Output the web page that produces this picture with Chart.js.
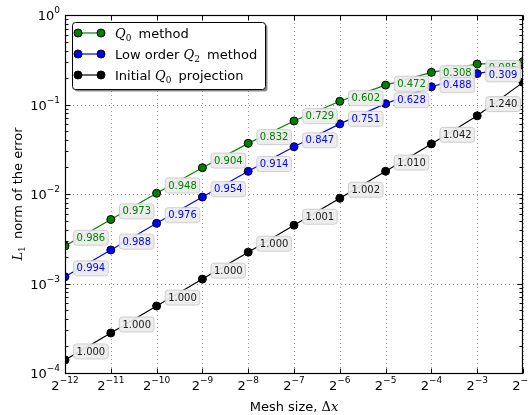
<!DOCTYPE html>
<html>
<head>
<meta charset="utf-8">
<script src="https://cdn.jsdelivr.net/npm/chart.js@4/dist/chart.umd.min.js"></script>
<style>
  html, body { margin: 0; padding: 0; background: #ffffff; }
  canvas { display: block; }
</style>
</head>
<body>
<canvas id="c" width="528" height="415"></canvas>
<script>
// Mesh sizes dx = 2^e
const meshExponents = [-12, -11, -10, -9, -8, -7, -6, -5, -4, -3, -2];
const meshSizes = [0.000244140625, 0.00048828125, 0.0009765625, 0.001953125, 0.00390625,
                   0.0078125, 0.015625, 0.03125, 0.0625, 0.125, 0.25];
const decadeExponents = [-4, -3, -2, -1, 0];

// L1 error of each scheme at each mesh size
const q0Error   = [2.62e-3, 5.19e-3, 1.019e-2, 1.966e-2, 3.68e-2, 6.55e-2, 0.1086, 0.1648, 0.2286, 0.283, 0.300];
const q2Error   = [1.19e-3, 2.37e-3, 4.70e-3, 9.245e-3, 1.791e-2, 3.374e-2, 6.07e-2, 0.1022, 0.1579, 0.2215, 0.2744];
const projError = [1.40e-4, 2.80e-4, 5.60e-4, 1.12e-3, 2.24e-3, 4.48e-3, 8.966e-3, 1.796e-2, 3.628e-2, 7.476e-2, 0.1767];

// Observed convergence rate between neighbouring meshes
const q0Rates   = ['0.986', '0.973', '0.948', '0.904', '0.832', '0.729', '0.602', '0.472', '0.308', '0.085'];
const q2Rates   = ['0.994', '0.988', '0.976', '0.954', '0.914', '0.847', '0.751', '0.628', '0.488', '0.309'];
const projRates = ['1.000', '1.000', '1.000', '1.000', '1.000', '1.001', '1.002', '1.010', '1.042', '1.240'];

const SANS = "'DejaVu Sans', sans-serif";
const SERIF = "'DejaVu Serif', serif";

const seriesList = [
  { legend: [{ t: 'Q', font: 'italic 13px ' + SERIF }, { t: '0', font: '9px ' + SERIF, dy: 3 }, { t: ' method', font: '13px ' + SANS, dx: 3 }],
    values: q0Error, rates: q0Rates, color: '#008000' },
  { legend: [{ t: 'Low order ', font: '13px ' + SANS }, { t: 'Q', font: 'italic 13px ' + SERIF }, { t: '2', font: '9px ' + SERIF, dy: 3 }, { t: ' method', font: '13px ' + SANS, dx: 3 }],
    values: q2Error, rates: q2Rates, color: '#0000ff' },
  { legend: [{ t: 'Initial ', font: '13px ' + SANS }, { t: 'Q', font: 'italic 13px ' + SERIF }, { t: '0', font: '9px ' + SERIF, dy: 3 }, { t: ' projection', font: '13px ' + SANS, dx: 3 }],
    values: projError, rates: projRates, color: '#000000' }
];

function richWidth(ctx, parts) {
  let w = 0;
  for (const p of parts) { ctx.font = p.font; w += ctx.measureText(p.t).width + (p.dx || 0); }
  return w;
}
function drawRich(ctx, parts, x, y, color) {
  let cx = x;
  ctx.fillStyle = color;
  ctx.textAlign = 'left';
  ctx.textBaseline = 'alphabetic';
  for (const p of parts) {
    ctx.font = p.font;
    cx += p.dx || 0;
    ctx.fillText(p.t, cx, y + (p.dy || 0));
    cx += ctx.measureText(p.t).width;
  }
}
function roundRect(ctx, x, y, w, h, r) {
  ctx.beginPath();
  ctx.moveTo(x + r, y);
  ctx.lineTo(x + w - r, y);
  ctx.quadraticCurveTo(x + w, y, x + w, y + r);
  ctx.lineTo(x + w, y + h - r);
  ctx.quadraticCurveTo(x + w, y + h, x + w - r, y + h);
  ctx.lineTo(x + r, y + h);
  ctx.quadraticCurveTo(x, y + h, x, y + h - r);
  ctx.lineTo(x, y + r);
  ctx.quadraticCurveTo(x, y, x + r, y);
  ctx.closePath();
}

const axesPlugin = {
  id: 'axesDecor',
  beforeDatasetsDraw(chart) {
    const { ctx, chartArea: a, scales: { x, y } } = chart;
    ctx.save();
    ctx.strokeStyle = 'rgba(0,0,0,0.4)';
    ctx.lineWidth = 1;
    ctx.setLineDash([1, 3]);
    for (const e of meshExponents) {
      const px = Math.round(x.getPixelForValue(Math.pow(2, e))) + 0.5;
      ctx.beginPath(); ctx.moveTo(px, a.top); ctx.lineTo(px, a.bottom); ctx.stroke();
    }
    for (const d of decadeExponents) {
      const py = Math.round(y.getPixelForValue(Math.pow(10, d))) + 0.5;
      ctx.beginPath(); ctx.moveTo(a.left, py); ctx.lineTo(a.right, py); ctx.stroke();
    }
    ctx.restore();
  },
  afterDatasetsDraw(chart) {
    const { ctx, chartArea: a, scales: { x, y } } = chart;
    ctx.save();
    // frame
    ctx.strokeStyle = '#000';
    ctx.lineWidth = 1.2;
    ctx.strokeRect(Math.round(a.left) + 0.5, Math.round(a.top) + 0.5,
                   Math.round(a.right - a.left) - 1, Math.round(a.bottom - a.top));
    // inward ticks
    ctx.lineWidth = 1;
    const L = Math.round(a.left) + 0.5, R = Math.round(a.right) - 0.5;
    const T = Math.round(a.top) + 0.5, B = Math.round(a.bottom) + 0.5;
    for (const e of meshExponents) {
      const px = Math.round(x.getPixelForValue(Math.pow(2, e))) + 0.5;
      ctx.beginPath();
      ctx.moveTo(px, B); ctx.lineTo(px, B - 5);
      ctx.moveTo(px, T); ctx.lineTo(px, T + 5);
      ctx.stroke();
    }
    for (let d = -4; d <= 0; d++) {
      const py = Math.round(y.getPixelForValue(Math.pow(10, d))) + 0.5;
      ctx.beginPath();
      ctx.moveTo(L, py); ctx.lineTo(L + 5, py);
      ctx.moveTo(R, py); ctx.lineTo(R - 5, py);
      ctx.stroke();
      if (d < 0) {
        for (let m = 2; m <= 9; m++) {
          const pm = Math.round(y.getPixelForValue(m * Math.pow(10, d))) + 0.5;
          ctx.beginPath();
          ctx.moveTo(L, pm); ctx.lineTo(L + 3, pm);
          ctx.moveTo(R, pm); ctx.lineTo(R - 3, pm);
          ctx.stroke();
        }
      }
    }
    // rate labels at segment midpoints
    ctx.font = '10px ' + SANS;
    ctx.textAlign = 'center';
    ctx.textBaseline = 'middle';
    for (const s of seriesList) {
      for (let j = 0; j < s.rates.length; j++) {
        const x1 = x.getPixelForValue(meshSizes[j]), y1 = y.getPixelForValue(s.values[j]);
        const x2 = x.getPixelForValue(meshSizes[j + 1]), y2 = y.getPixelForValue(s.values[j + 1]);
        const mx = (x1 + x2) / 2 + 3, my = (y1 + y2) / 2 + 5;
        const w = ctx.measureText(s.rates[j]).width + 6, h = 15;
        roundRect(ctx, mx - w / 2, my - h / 2, w, h, 3);
        ctx.fillStyle = 'rgba(236,236,236,0.92)';
        ctx.fill();
        ctx.strokeStyle = '#cfcfcf';
        ctx.lineWidth = 1;
        ctx.stroke();
        ctx.fillStyle = s.color === '#000000' ? '#1a1a1a' : s.color;
        ctx.fillText(s.rates[j], mx, my + 0.5);
      }
    }
    ctx.restore();
  },
  afterDraw(chart) {
    const { ctx, chartArea: a, scales: { x, y } } = chart;
    ctx.save();
    // x tick labels: 2^e
    for (const e of meshExponents) {
      const px = x.getPixelForValue(Math.pow(2, e));
      const parts = [{ t: '2', font: '13px ' + SANS }, { t: '\u2212' + Math.abs(e), font: '9px ' + SANS, dy: -7 }];
      const w = richWidth(ctx, parts);
      drawRich(ctx, parts, px - w / 2, 390, '#000');
    }
    // y tick labels: 10^d
    for (const d of decadeExponents) {
      const py = y.getPixelForValue(Math.pow(10, d));
      const sup = d === 0 ? '0' : '\u2212' + Math.abs(d);
      const parts = [{ t: '10', font: '13px ' + SANS }, { t: sup, font: '9px ' + SANS, dy: -7 }];
      const w = richWidth(ctx, parts);
      drawRich(ctx, parts, 60 - w, py + 5, '#000');
    }
    // axis titles
    const xt = [{ t: 'Mesh size, ', font: '13px ' + SANS }, { t: '\u0394', font: '13px ' + SERIF }, { t: 'x', font: 'italic 13px ' + SERIF }];
    const xw = richWidth(ctx, xt);
    drawRich(ctx, xt, (a.left + a.right) / 2 - xw / 2, 411, '#000');
    const yt = [{ t: 'L', font: 'italic 13px ' + SERIF }, { t: '1', font: '9px ' + SERIF, dy: 3 }, { t: ' norm of the error', font: '13px ' + SANS, dx: 3 }];
    const yw = richWidth(ctx, yt);
    ctx.save();
    ctx.translate(22, (a.top + a.bottom) / 2);
    ctx.rotate(-Math.PI / 2);
    drawRich(ctx, yt, -yw / 2, 0, '#000');
    ctx.restore();
    // legend
    const bx = 72.5, by = 22.5, bw = 193, bh = 67;
    roundRect(ctx, bx + 2, by + 2, bw, bh, 3);
    ctx.fillStyle = 'rgba(0,0,0,0.45)';
    ctx.fill();
    roundRect(ctx, bx, by, bw, bh, 3);
    ctx.fillStyle = '#fff';
    ctx.fill();
    ctx.strokeStyle = '#000';
    ctx.lineWidth = 1;
    ctx.stroke();
    seriesList.forEach((s, i) => {
      const ry = 33 + i * 21;
      ctx.strokeStyle = s.color;
      ctx.lineWidth = 1.2;
      ctx.beginPath(); ctx.moveTo(78, ry); ctx.lineTo(101, ry); ctx.stroke();
      for (const cx of [78, 101]) {
        ctx.beginPath();
        ctx.arc(cx, ry, 4, 0, Math.PI * 2);
        ctx.fillStyle = s.color;
        ctx.fill();
        ctx.strokeStyle = '#000';
        ctx.lineWidth = 1;
        ctx.stroke();
      }
      drawRich(ctx, s.legend, 115, ry + 5, '#000');
    });
    ctx.restore();
  }
};

new Chart(document.getElementById('c'), {
  type: 'line',
  data: {
    datasets: seriesList.map(s => ({
      data: meshSizes.map((m, i) => ({ x: m, y: s.values[i] })),
      borderColor: s.color,
      backgroundColor: s.color,
      pointBackgroundColor: s.color,
      pointBorderColor: '#000',
      pointBorderWidth: 1,
      pointRadius: 4,
      borderWidth: 1.2,
      tension: 0,
      clip: 0
    }))
  },
  options: {
    responsive: false,
    animation: false,
    layout: { padding: { left: 65, top: 15, right: 1, bottom: 42 } },
    plugins: { legend: { display: false }, tooltip: { enabled: false } },
    scales: {
      x: { type: 'logarithmic', display: false, min: meshSizes[0], max: meshSizes[meshSizes.length - 1] },
      y: { type: 'logarithmic', display: false, min: 1e-4, max: 1 }
    }
  },
  plugins: [axesPlugin]
});
</script>
</body>
</html>
